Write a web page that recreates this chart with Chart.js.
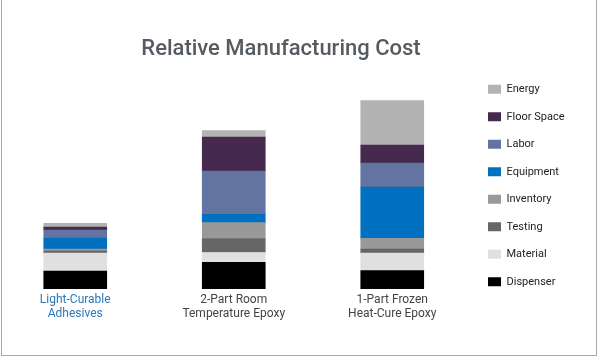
<!DOCTYPE html>
<html><head><meta charset="utf-8">
<script src="https://cdn.jsdelivr.net/npm/chart.js@4"></script>
<style>
html,body{margin:0;padding:0;background:#fff;}
#wrap{position:relative;width:600px;height:360px;overflow:hidden;background:#fff;}
#frame{position:absolute;left:1px;top:-2px;width:596px;height:358px;border:1px solid #a8a8a8;box-sizing:border-box;pointer-events:none;}
#c{position:absolute;left:-4px;top:0;}
</style></head>
<body>
<div id="wrap"><canvas id="c" width="590" height="360" style="width:590px;height:360px"></canvas><div id="frame"></div></div>
<script>
const categories = [["Light-Curable","Adhesives"],["2-Part Room","Temperature Epoxy"],["1-Part Frozen","Heat-Cure Epoxy"]];
const seriesNames = ["Dispenser","Material","Testing","Inventory","Equipment","Labor","Floor Space","Energy"];
const dispenser  = [18, 26.6, 18.3];
const material   = [18, 10, 17.7];
const testing    = [2, 14, 4];
const inventory  = [2, 16, 10.7];
const equipment  = [11, 8.4, 51.7];
const labor      = [8, 43.3, 24];
const floorSpace = [3, 34.3, 18];
const energy     = [4, 6.4, 44.7];
const colors = ["#000000","#e0e0e0","#666666","#999999","#0070c0","#6474a0","#45294f","#b3b3b3"];
const values = [dispenser, material, testing, inventory, equipment, labor, floorSpace, energy];

const FONT = "'Roboto', sans-serif";
new Chart(document.getElementById('c'), {
  type: 'bar',
  data: {
    labels: categories,
    datasets: seriesNames.map((n,i)=>({label:n, data:values[i], backgroundColor:colors[i], borderWidth:0, barThickness:63}))
  },
  options: {
    responsive:false, animation:false,
    layout:{padding:{top:20,right:20,bottom:35,left:0}},
    plugins:{
      title:{display:true,text:"Relative Manufacturing Cost",color:"#555b60",font:{family:FONT,size:22,weight:'500'},padding:{top:16.2,bottom:27.2}},
      legend:{position:'right',reverse:true,maxWidth:94.5,
        title:{display:true,text:' ',font:{size:12,lineHeight:1.2},padding:{top:0,bottom:11.6}},
        labels:{boxWidth:13,boxHeight:9,padding:16.5,color:'#222',font:{family:FONT,size:11}}},
      tooltip:{enabled:false}
    },
    scales:{
      x:{stacked:true,grid:{display:false,drawTicks:false},border:{display:false},
         ticks:{color:(ctx)=>ctx.index===0?'#2a78bd':'#444',font:{family:FONT,size:12,lineHeight:1.17},padding:4}},
      y:{stacked:true,display:false,min:0,max:200}
    }
  }
});
</script>
</body></html>
